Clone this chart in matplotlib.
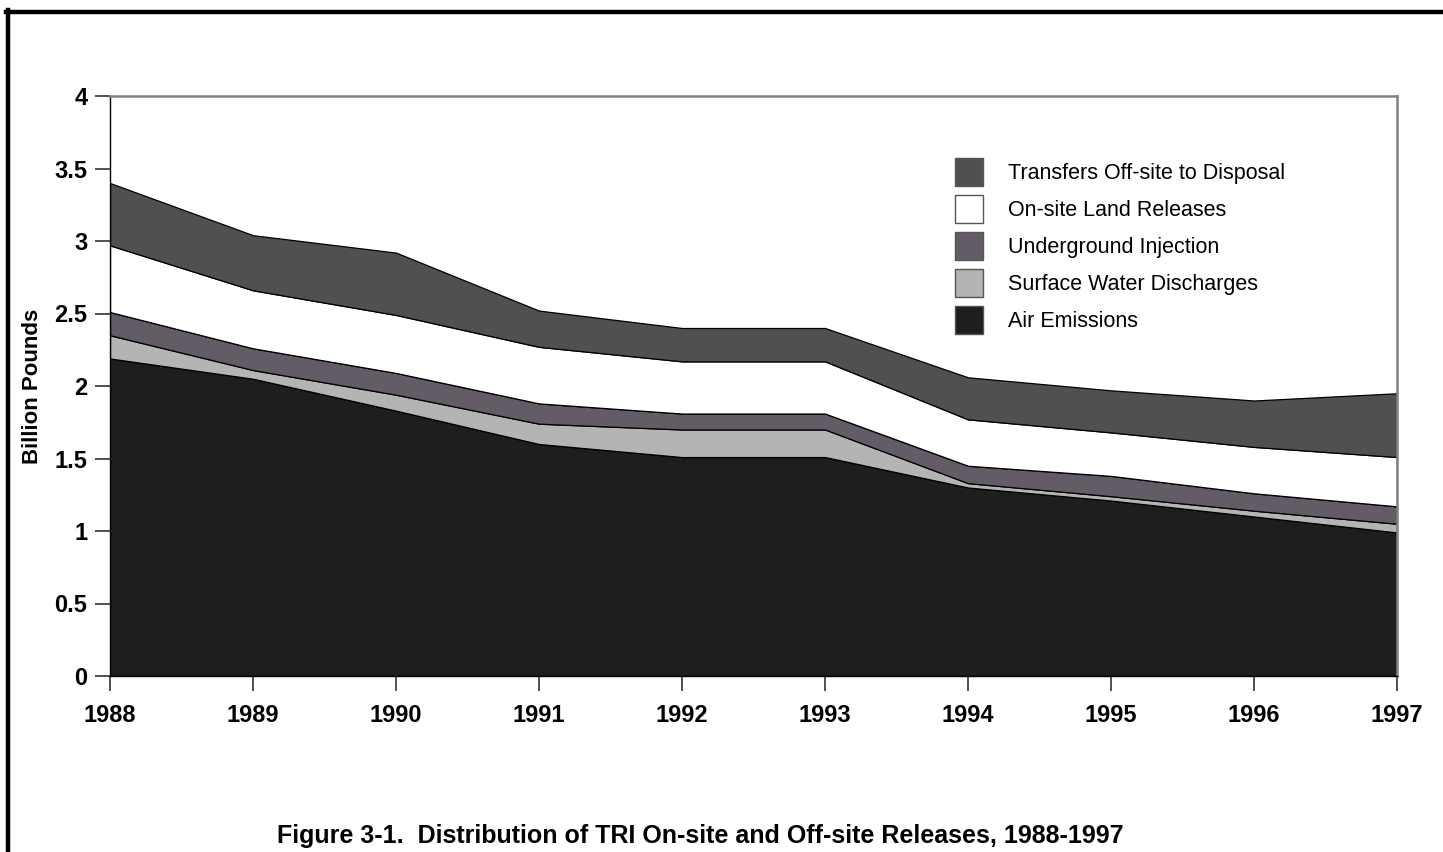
import numpy as np
import matplotlib.pyplot as plt
from matplotlib.patches import Patch
from matplotlib.lines import Line2D

plt.rcParams['font.family'] = ['Liberation Sans', 'DejaVu Sans']

# data (billion pounds)
years = [1988, 1989, 1990, 1991, 1992, 1993, 1994, 1995, 1996, 1997]
air = [2.19, 2.05, 1.83, 1.60, 1.51, 1.51, 1.30, 1.21, 1.10, 0.99]
surface_water = [0.16, 0.06, 0.11, 0.14, 0.19, 0.19, 0.03, 0.03, 0.04, 0.06]
underground = [0.16, 0.15, 0.15, 0.14, 0.11, 0.11, 0.12, 0.14, 0.12, 0.12]
land = [0.46, 0.40, 0.40, 0.39, 0.36, 0.36, 0.32, 0.30, 0.32, 0.34]
transfers = [0.43, 0.38, 0.43, 0.25, 0.23, 0.23, 0.29, 0.29, 0.32, 0.44]

labels = ['Air Emissions', 'Surface Water Discharges', 'Underground Injection',
          'On-site Land Releases', 'Transfers Off-site to Disposal']
colors = ['#1e1e1e', '#b4b4b4', '#635b66', '#ffffff', '#505050']
yticks = [0, 0.5, 1, 1.5, 2, 2.5, 3, 3.5, 4]
ytick_labels = ['0', '0.5', '1', '1.5', '2', '2.5', '3', '3.5', '4']

fig = plt.figure(figsize=(14.43, 8.52), dpi=100)
ax = fig.add_axes([110/1443, 1-676/852, (1397-110)/1443, (676-96)/852])

series = [air, surface_water, underground, land, transfers]
ax.stackplot(years, *series, colors=colors, edgecolor='black', linewidth=0.9)

ax.set_xlim(1988, 1997)
ax.set_ylim(0, 4)
ax.set_xticks(years)
ax.set_xticklabels([str(y) for y in years], fontsize=17, fontweight='bold')
ax.set_yticks(yticks)
ax.set_yticklabels(ytick_labels, fontsize=17, fontweight='bold')
ax.tick_params(axis='x', length=10.8, width=1.2, color='#333333', pad=9)
ax.tick_params(axis='y', length=10.8, width=1.2, color='#333333', pad=5.5)

for side in ['top', 'right']:
    ax.spines[side].set_color('#808080')
    ax.spines[side].set_linewidth(1.8)
for side in ['left', 'bottom']:
    ax.spines[side].set_color('black')
    ax.spines[side].set_linewidth(1.0)

ax.set_ylabel('Billion Pounds', fontsize=16, fontweight='bold')
ax.yaxis.set_label_coords((43-110)/1287, 0.5)

# legend, top entry first
handles = [Patch(facecolor=c, edgecolor='#555555', linewidth=1.0) for c in colors[::-1]]
ax.legend(handles, labels[::-1], loc='upper left', bbox_to_anchor=(0.6566, 0.893),
          frameon=False, fontsize=15.5, handlelength=1.3, handleheight=1.62,
          handletextpad=1.15, labelspacing=0.42, borderaxespad=0, borderpad=0)

fig.text(0.485, 1-843/852, 'Figure 3-1.  Distribution of TRI On-site and Off-site Releases, 1988-1997',
         ha='center', va='baseline', fontsize=18, fontweight='bold')

# page frame lines (left and top only)
fig.add_artist(Line2D([7.5/1443, 7.5/1443], [0, 1-10/852], color='black', linewidth=3.2,
                      transform=fig.transFigure))
fig.add_artist(Line2D([6/1443, 1], [1-11.5/852, 1-11.5/852], color='black', linewidth=3.2,
                      transform=fig.transFigure))

fig.savefig('out.png', dpi=100, facecolor='white')
